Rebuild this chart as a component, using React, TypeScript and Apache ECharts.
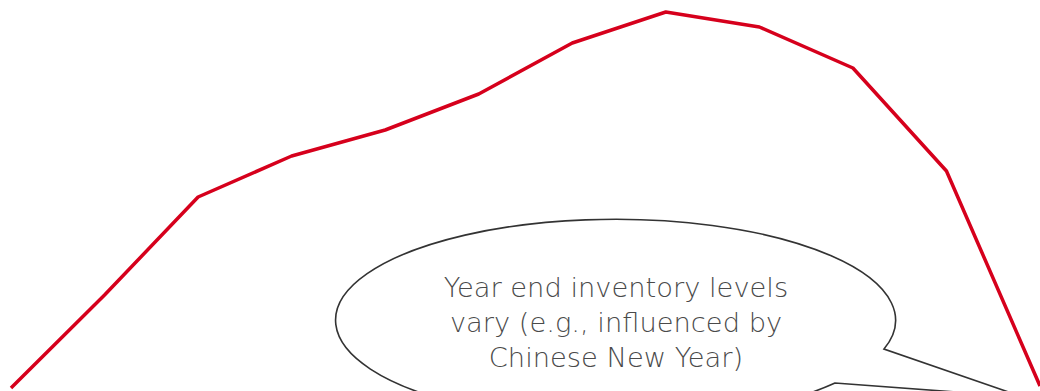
import React, { useEffect, useRef } from "react";
import * as echarts from "echarts";

const months = ["1", "2", "3", "4", "5", "6", "7", "8", "9", "10", "11", "12"];
const inventory = [3, 96, 194, 235, 261, 297, 348, 379, 364, 323, 220, 5];
const calloutLines = [
  "Year end inventory levels",
  "vary (e.g., influenced by",
  "Chinese New Year)",
];

const bubblePath =
  "M 884 349 A 280 101 0 1 0 835 383 L 1023 397 Z";

let registered = false;
function ensureShape() {
  if (registered) return;
  echarts.graphic.registerShape(
    "bubble",
    echarts.graphic.extendPath(bubblePath, {}) as any
  );
  registered = true;
}

export default function App() {
  const ref = useRef<HTMLDivElement>(null);
  useEffect(() => {
    if (!ref.current) return;
    ensureShape();
    const chart = echarts.init(ref.current, undefined, { renderer: "svg" });
    chart.setOption({
      animation: false,
      grid: { left: 11, right: -3, top: 0, bottom: 0, containLabel: false },
      xAxis: {
        type: "category",
        data: months,
        boundaryGap: false,
        show: false,
      },
      yAxis: { type: "value", min: 0, max: 391, show: false },
      series: [
        {
          type: "line",
          data: inventory,
          symbol: "none",
          lineStyle: { color: "#d6001c", width: 3.5 },
          z: 2,
        },
      ],
      graphic: [
        {
          type: "bubble",
          x: 0,
          y: 0,
          z: 10,
          style: { fill: "#ffffff", stroke: "#333333", lineWidth: 1.6 },
        },
        {
          type: "text",
          x: 616,
          y: 322,
          z: 11,
          style: {
            text: calloutLines.join("\n"),
            fill: "#4a4a4a",
            font: "200 27.3px 'DejaVu Sans ExtraLight', 'DejaVu Sans'",
            lineHeight: 35,
            align: "center",
            verticalAlign: "middle",
          },
        },
      ],
    });
    return () => chart.dispose();
  }, []);
  return (
    <div
      ref={ref}
      style={{ position: "fixed", left: 0, top: 0, width: 1040, height: 391, background: "#fff" }}
    />
  );
}
